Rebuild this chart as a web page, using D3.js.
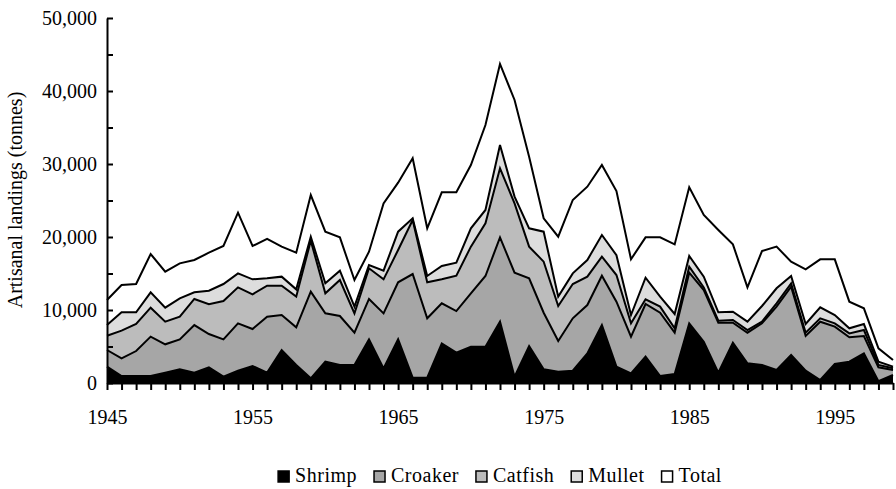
<!DOCTYPE html>
<html>
<head>
<meta charset="utf-8">
<script src="https://cdn.jsdelivr.net/npm/d3@7"></script>
<style>
  html, body { margin: 0; padding: 0; background: #fff; }
  svg { display: block; font-family: "Liberation Serif", "Times New Roman", serif; }
</style>
</head>
<body>
<svg id="chart" width="896" height="489"></svg>
<script>
// Artisanal landings by species, 1945-1999 (tonnes)
const years = d3.range(1945, 2000);

const shrimp = [2240, 960, 960, 960, 1420, 1870, 1420, 2150, 870, 1690,
  2330, 1420, 4520, 2470, 640, 2920, 2470, 2470, 5980, 2010,
  5980, 730, 730, 5430, 4150, 4980, 4980, 8400, 870, 5070,
  1870, 1550, 1690, 4060, 7940, 2240, 1320, 3610, 960, 1230,
  8170, 5660, 1420, 5530, 2690, 2470, 1780, 3840, 1690, 410,
  2600, 2920, 4060, 250, 1100];

const croaker = [2280, 2420, 3420, 5390, 3880, 4110, 6520, 4560, 5110, 6480,
  5070, 7670, 4790, 5160, 11870, 6620, 6710, 4420, 5530, 7530,
  7810, 14200, 8130, 5480, 5710, 7300, 9680, 11550, 14240, 9270,
  7760, 4200, 7170, 6620, 6760, 8900, 5030, 7210, 8670, 5660,
  6940, 7080, 6840, 2730, 4200, 5700, 8680, 9360, 4750, 7990,
  5120, 3340, 2380, 1900, 680];

const catfish = [1960, 3790, 3700, 3970, 3100, 3110, 3570, 4070, 5250, 4930,
  4750, 4240, 4020, 4200, 6990, 2740, 4930, 2650, 4200, 4660,
  4430, 7400, 4930, 3290, 4840, 6400, 7210, 9460, 9500, 4340,
  6990, 4800, 4700, 3890, 2600, 3650, 1820, 640, 830, 600,
  830, 360, 280, 370, 370, 230, 450, 450, 450, 460,
  450, 540, 820, 320, 230];

const mullet = [1460, 2510, 1600, 2100, 1920, 2510, 910, 1870, 2330, 1920,
  2050, 1010, 1240, 1000, 540, 1370, 1280, 920, 450, 1190,
  2510, 230, 870, 1830, 1780, 2510, 1830, 3190, 920, 2510,
  4110, 1280, 1460, 2280, 2970, 2710, 1140, 2970, 1370, 1960,
  1460, 1470, 1140, 1140, 1140, 2150, 2060, 1010, 1190, 1500,
  1140, 690, 820, 450, 230];

// Overall artisanal landings (all species)
const total = [11370, 13420, 13560, 17670, 15250, 16390, 16850, 17850, 18770, 23330,
  18770, 19730, 18680, 17850, 25750, 20730, 19950, 14110, 17990, 24610,
  27440, 30780, 21190, 26120, 26120, 29860, 35340, 43700, 38770, 31000,
  22560, 20040, 25070, 26890, 29860, 26300, 16950, 19950, 19950, 18990,
  26800, 23010, 20960, 18990, 13100, 18080, 18680, 16620, 15570, 16940,
  16940, 11140, 10230, 4750, 3150];

const seriesNames = ["Shrimp", "Croaker", "Catfish", "Mullet", "Total"];
const seriesFill = ["#000000", "#a6a6a6", "#bcbcbc", "#dddddd", "#ffffff"];

const rows = years.map((y, i) => ({
  year: y, Shrimp: shrimp[i], Croaker: croaker[i], Catfish: catfish[i],
  Mullet: mullet[i], Total: total[i]
}));

const svg = d3.select("#chart");
const x = d3.scaleLinear().domain([1945, 1999]).range([107, 893]);
const y = d3.scaleLinear().domain([0, 50000]).range([383, 18]);

const stacked = d3.stack().keys(seriesNames.slice(0, 4))(rows);
const topOfSpecies = stacked[stacked.length - 1];

// White "Total" band between species stack and overall total
svg.append("path")
  .datum(rows)
  .attr("fill", seriesFill[4])
  .attr("d", d3.area()
    .x(d => x(d.year))
    .y0((d, i) => y(topOfSpecies[i][1]))
    .y1(d => y(d.Total)));

// Species bands
svg.selectAll("path.layer")
  .data(stacked)
  .join("path")
  .attr("class", "layer")
  .attr("fill", (d, i) => seriesFill[i])
  .attr("d", d3.area()
    .x(d => x(d.data.year))
    .y0(d => y(d[0]))
    .y1(d => y(d[1])));

// Band outlines
const line = d3.line().x(d => x(d.data.year)).y(d => y(d[1]));
svg.selectAll("path.edge")
  .data(stacked)
  .join("path")
  .attr("class", "edge")
  .attr("fill", "none")
  .attr("stroke", "#000")
  .attr("stroke-width", 2)
  .attr("d", line);

svg.append("path")
  .datum(rows)
  .attr("fill", "none")
  .attr("stroke", "#000")
  .attr("stroke-width", 2)
  .attr("d", d3.line().x(d => x(d.year)).y(d => y(d.Total)));

// Y axis: major ticks every 10,000, minor every 5,000, ticks pointing inward
const yMajor = d3.range(0, 50001, 10000);
const yMinor = d3.range(5000, 50000, 10000);

svg.append("g")
  .attr("transform", "translate(107,0)")
  .call(d3.axisLeft(y).tickValues(yMajor).tickSize(-6).tickSizeOuter(0)
    .tickPadding(10).tickFormat(d3.format(",")));
svg.append("g")
  .attr("transform", "translate(107,0)")
  .call(d3.axisLeft(y).tickValues(yMinor).tickSize(-6).tickSizeOuter(0).tickFormat(""))
  .select(".domain").remove();

// X axis: tick every year, labels each decade from 1945
const xLabels = [1945, 1955, 1965, 1975, 1985, 1995];
svg.append("g")
  .attr("transform", "translate(0,383)")
  .call(d3.axisBottom(x).tickValues(years).tickSize(7).tickSizeOuter(0)
    .tickPadding(20).tickFormat(d => xLabels.includes(d) ? String(d) : ""));

svg.selectAll(".domain, .tick line")
  .attr("stroke", "#000")
  .attr("stroke-width", 2);
svg.selectAll(".tick text")
  .attr("fill", "#000")
  .style("font-size", "20px")
  .style("font-family", "Liberation Serif, Times New Roman, serif");

// Y axis title
svg.append("text")
  .attr("transform", "translate(22,200) rotate(-90)")
  .attr("text-anchor", "middle")
  .style("font-size", "20px")
  .text("Artisanal landings (tonnes)");

// Legend
const legend = svg.append("g");
let cursor = 0;
seriesNames.forEach((name, i) => {
  const g = legend.append("g");
  g.append("rect")
    .attr("x", 0).attr("y", -11).attr("width", 11).attr("height", 11)
    .attr("fill", seriesFill[i]).attr("stroke", "#000").attr("stroke-width", 1.5);
  const t = g.append("text")
    .attr("x", 17).attr("y", 0)
    .style("font-size", "20px")
    .style("letter-spacing", "0.5px")
    .text(name);
  const w = 17 + t.node().getComputedTextLength();
  g.attr("transform", `translate(${cursor},0)`);
  cursor += w + 17;
});
const legendWidth = cursor - 17;
legend.attr("transform", `translate(${500 - legendWidth / 2},482)`);
</script>
</body>
</html>
